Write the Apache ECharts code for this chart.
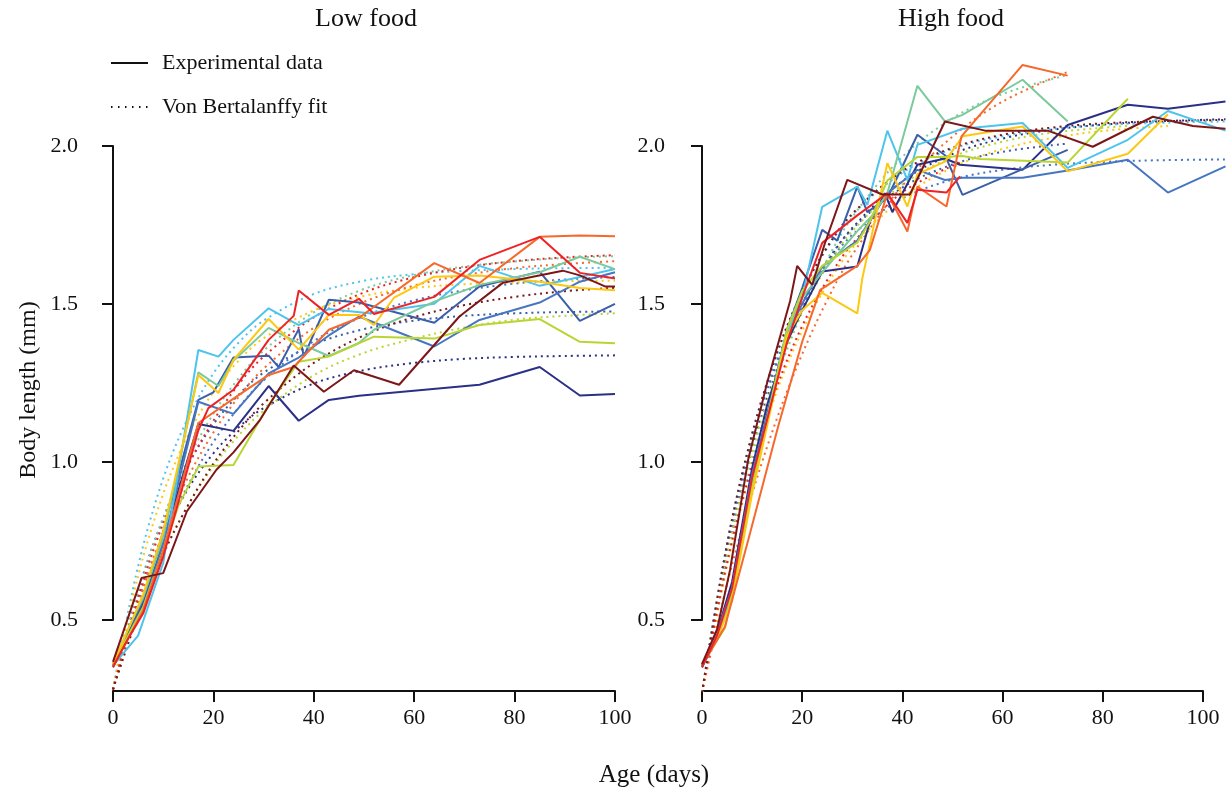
<!DOCTYPE html>
<html>
<head>
<meta charset="utf-8">
<script src="https://cdn.jsdelivr.net/npm/echarts@6/dist/echarts.min.js"></script>
<style>
  html, body { margin: 0; padding: 0; background: #fff; }
  #chart { width: 1230px; height: 793px; }
</style>
</head>
<body>
<div id="chart"></div>
<script>
// ---- data: [age (days), body length (mm)] ----
// Low food, experimental
const lowNavy = [[0,0.36],[3,0.45],[6,0.55],[10,0.75],[17,1.12],[24,1.098],[31,1.24],[37,1.13],[43,1.196],[49,1.209],[73,1.244],[85,1.30],[93,1.21],[100,1.215]];
const lowBlueA = [[0,0.355],[3,0.46],[6,0.56],[10,0.78],[17,1.196],[20,1.22],[24,1.33],[31,1.336],[33,1.30],[37,1.42],[38,1.333],[43,1.513],[49,1.504],[64,1.44],[73,1.555],[85,1.602],[93,1.446],[100,1.50]];
const lowBlueB = [[0,0.35],[3,0.45],[6,0.54],[10,0.74],[17,1.19],[24,1.152],[31,1.28],[37,1.33],[43,1.40],[49,1.46],[64,1.365],[73,1.449],[85,1.504],[93,1.57],[100,1.60]];
const lowCyan = [[0,0.355],[5,0.45],[10,0.68],[17,1.354],[21,1.333],[24,1.386],[31,1.486],[37,1.433],[43,1.484],[51,1.47],[64,1.50],[73,1.62],[85,1.557],[93,1.585],[100,1.61]];
const lowTeal = [[0,0.36],[3,0.47],[6,0.57],[10,0.76],[17,1.283],[21,1.24],[24,1.32],[31,1.424],[37,1.376],[43,1.335],[49,1.376],[52,1.418],[64,1.507],[73,1.56],[85,1.60],[93,1.649],[100,1.61]];
const lowYellow = [[0,0.36],[3,0.47],[6,0.58],[10,0.78],[17,1.275],[21,1.218],[24,1.323],[31,1.452],[37,1.355],[43,1.465],[49,1.465],[52,1.433],[56,1.52],[64,1.586],[73,1.59],[85,1.57],[93,1.55],[100,1.543]];
const lowOrange = [[0,0.355],[3,0.44],[6,0.53],[10,0.72],[17,1.123],[24,1.20],[31,1.275],[36,1.30],[43,1.418],[49,1.456],[64,1.629],[73,1.566],[85,1.712],[93,1.716],[100,1.714]];
const lowRed = [[0,0.35],[3,0.44],[6,0.52],[10,0.70],[17,1.10],[19,1.17],[24,1.228],[31,1.386],[36,1.462],[37,1.542],[43,1.465],[49,1.516],[52,1.468],[64,1.522],[73,1.639],[85,1.712],[93,1.598],[100,1.58]];
const lowMaroon = [[0,0.367],[5.7,0.633],[10,0.648],[14.7,0.843],[20.6,0.975],[24,1.03],[29.3,1.133],[36,1.305],[42,1.222],[48,1.29],[57,1.244],[69,1.46],[77.7,1.567],[89.6,1.605],[93,1.59],[98,1.555],[100,1.555]];
const lowLime = [[0,0.36],[3,0.45],[6,0.54],[10,0.72],[13,0.86],[17,0.985],[24,0.99],[31,1.18],[37,1.317],[43,1.333],[52,1.396],[64,1.39],[73,1.433],[85,1.452],[93,1.38],[100,1.375]];

// Low food, von Bertalanffy fits
const lowFitDays = [0, 5, 10, 15, 20, 25, 30, 40, 50, 60, 70, 80, 90, 100];
const lowNavyFit = [0.28, 0.56, 0.764, 0.916, 1.027, 1.109, 1.17, 1.248, 1.29, 1.313, 1.326, 1.332, 1.335, 1.337];
const lowBlueAFit = [0.28, 0.591, 0.821, 0.992, 1.119, 1.212, 1.282, 1.371, 1.42, 1.447, 1.462, 1.47, 1.474, 1.476];
const lowBlueBFit = [0.28, 0.545, 0.758, 0.928, 1.063, 1.171, 1.258, 1.382, 1.461, 1.511, 1.543, 1.564, 1.577, 1.585];
const lowCyanFit = [0.28, 0.67, 0.947, 1.141, 1.28, 1.377, 1.447, 1.531, 1.573, 1.594, 1.604, 1.61, 1.613, 1.614];
const lowTealFit = [0.28, 0.585, 0.822, 1.009, 1.152, 1.264, 1.352, 1.473, 1.547, 1.591, 1.618, 1.634, 1.645, 1.651];
const lowYellowFit = [0.28, 0.639, 0.899, 1.087, 1.222, 1.32, 1.391, 1.479, 1.525, 1.55, 1.562, 1.568, 1.572, 1.573];
const lowOrangeFit = [0.28, 0.555, 0.776, 0.953, 1.093, 1.205, 1.295, 1.424, 1.506, 1.558, 1.591, 1.613, 1.626, 1.635];
const lowRedFit = [0.28, 0.57, 0.806, 0.99, 1.13, 1.245, 1.333, 1.457, 1.536, 1.584, 1.615, 1.635, 1.647, 1.654];
const lowMaroonFit = [0.28, 0.514, 0.707, 0.864, 0.994, 1.098, 1.185, 1.313, 1.40, 1.458, 1.496, 1.522, 1.54, 1.551];
const lowLimeFit = [0.28, 0.519, 0.711, 0.864, 0.986, 1.083, 1.162, 1.274, 1.345, 1.39, 1.425, 1.45, 1.462, 1.47];

// High food, experimental
const highNavy = [[0,0.355],[3,0.46],[6,0.62],[10,0.98],[13,1.18],[17,1.38],[20,1.48],[24,1.602],[31,1.618],[33.5,1.76],[36.5,1.85],[38,1.79],[43,1.94],[48.5,1.96],[51.5,1.94],[64,1.924],[73,2.066],[85,2.13],[93,2.117],[104.5,2.14]];
const highBlueA = [[0,0.35],[3,0.45],[6,0.6],[10,0.95],[17,1.42],[20,1.55],[24,1.734],[27,1.70],[31,1.871],[33,1.79],[37,1.835],[43,2.035],[48.5,1.97],[52,1.845],[73,1.987]];
const highBlueB = [[0,0.35],[3,0.46],[6,0.6],[10,0.96],[17,1.40],[20,1.5],[24,1.618],[31,1.70],[37,1.85],[43,1.924],[48.5,1.892],[52,1.899],[64,1.899],[73,1.922],[85,1.956],[93,1.852],[104.5,1.935]];
const highCyan = [[0,0.35],[3,0.44],[6,0.58],[10,0.93],[17,1.40],[20,1.52],[24,1.807],[31,1.871],[33,1.813],[37,2.048],[41,1.892],[43,2.003],[52,2.054],[64,2.072],[73,1.93],[85,2.019],[93,2.11],[104.5,2.048]];
const highTeal = [[0,0.36],[3,0.45],[6,0.58],[10,0.92],[17,1.42],[20,1.52],[24,1.60],[31,1.73],[34,1.78],[37,1.85],[43,2.19],[48.5,2.077],[52,2.098],[64,2.209],[73,2.077]];
const highYellow = [[0,0.36],[3,0.44],[6,0.56],[10,0.90],[17,1.40],[20,1.48],[24,1.535],[31,1.47],[32,1.58],[37,1.945],[41,1.808],[43,1.91],[48.5,1.95],[52,2.03],[64,2.061],[73,1.919],[85,1.975],[93,2.10]];
const highLime = [[0,0.36],[4.6,0.475],[10,0.92],[17,1.42],[20,1.54],[24,1.62],[31,1.694],[33.5,1.76],[37,1.89],[43,1.965],[48.5,1.965],[52,1.968],[55.5,1.958],[73,1.947],[85,2.149]];
const highOrange = [[0,0.355],[4.6,0.479],[9.6,0.775],[15.2,1.112],[20,1.38],[23.6,1.544],[31,1.62],[33.5,1.67],[37,1.85],[41,1.729],[43,1.871],[48.8,1.808],[51.8,2.03],[64,2.256],[73,2.222]];
const highRed = [[0,0.35],[3,0.45],[6,0.6],[10,0.95],[17,1.38],[20,1.52],[24,1.693],[31,1.78],[37,1.85],[41,1.756],[43,1.861],[48.8,1.852],[51.5,1.903]];
const highMaroon = [[0,0.36],[3,0.47],[5.6,0.658],[9.2,1.006],[13,1.25],[17.6,1.51],[19,1.62],[22,1.56],[24.5,1.69],[29,1.892],[36,1.846],[41.5,1.846],[48.5,2.077],[56.5,2.048],[69,2.048],[78,1.997],[90,2.092],[98,2.063],[104.5,2.054]];

// High food, von Bertalanffy fits
const highNavyFit = [[0,0.27],[5,0.70],[10,1.04],[15,1.293],[20,1.484],[25,1.63],[30,1.74],[40,1.888],[50,1.974],[60,2.023],[70,2.051],[80,2.067],[90,2.077],[104.5,2.084]];
const highBlueAFit = [[0,0.27],[5,0.725],[10,1.068],[15,1.315],[20,1.50],[25,1.636],[30,1.737],[40,1.868],[50,1.941],[60,1.981],[73,2.007]];
const highBlueBFit = [[0,0.27],[5,0.738],[10,1.077],[15,1.322],[20,1.497],[25,1.625],[30,1.718],[40,1.833],[50,1.893],[60,1.924],[70,1.94],[80,1.949],[90,1.954],[104.5,1.957]];
const highCyanFit = [[0,0.27],[5,0.74],[10,1.086],[15,1.342],[20,1.535],[25,1.676],[30,1.781],[40,1.915],[50,1.99],[60,2.03],[70,2.053],[80,2.066],[90,2.072],[104.5,2.077]];
const highTealFit = [[0,0.27],[5,0.678],[10,1.005],[15,1.267],[20,1.474],[25,1.64],[30,1.774],[40,1.965],[50,2.087],[60,2.164],[73,2.224]];
const highYellowFit = [[0,0.27],[5,0.67],[10,0.981],[15,1.226],[20,1.414],[25,1.561],[30,1.676],[40,1.835],[50,1.931],[60,1.99],[70,2.025],[80,2.047],[93,2.063]];
const highLimeFit = [[0,0.27],[5,0.70],[10,1.03],[15,1.285],[20,1.476],[25,1.62],[30,1.73],[40,1.877],[50,1.965],[60,2.013],[70,2.042],[85,2.063]];
const highOrangeFit = [[0,0.27],[5,0.613],[10,0.898],[15,1.139],[20,1.341],[25,1.512],[30,1.655],[40,1.874],[50,2.029],[60,2.14],[73,2.234]];
const highRedFit = [[0,0.27],[5,0.68],[10,0.99],[15,1.24],[20,1.43],[25,1.575],[30,1.69],[40,1.853],[52,1.95]];
const highMaroonFit = [[0,0.27],[5,0.74],[10,1.089],[15,1.346],[20,1.539],[25,1.68],[30,1.785],[40,1.92],[50,1.994],[60,2.035],[70,2.058],[80,2.071],[90,2.077],[104.5,2.082]];

const xTicks = [0, 20, 40, 60, 80, 100];
const yTicks = [0.5, 1.0, 1.5, 2.0];

// ---- styling ----
const font = '"Liberation Serif", "Times New Roman", serif';
const ink = '#111';
const palette = {
    navy: '#2b3087', blueA: '#3a5ea9', blueB: '#4676c1', cyan: '#4ec4ec', teal: '#7bca9c',
    lime: '#b9d532', yellow: '#fdc811', orange: '#f6682b', red: '#ee2226', maroon: '#7c1618',
};
const dotted = [2, 4];

const lowSets = [
    ['navy', lowNavy, lowNavyFit], ['blueA', lowBlueA, lowBlueAFit], ['blueB', lowBlueB, lowBlueBFit],
    ['cyan', lowCyan, lowCyanFit], ['teal', lowTeal, lowTealFit], ['lime', lowLime, lowLimeFit],
    ['yellow', lowYellow, lowYellowFit], ['orange', lowOrange, lowOrangeFit], ['red', lowRed, lowRedFit],
    ['maroon', lowMaroon, lowMaroonFit],
];
const highSets = [
    ['navy', highNavy, highNavyFit], ['blueA', highBlueA, highBlueAFit], ['blueB', highBlueB, highBlueBFit],
    ['cyan', highCyan, highCyanFit], ['teal', highTeal, highTealFit], ['lime', highLime, highLimeFit],
    ['yellow', highYellow, highYellowFit], ['orange', highOrange, highOrangeFit], ['red', highRed, highRedFit],
    ['maroon', highMaroon, highMaroonFit],
];

const series = [];
const addPanel = (sets, axis, fitAsPairs) => {
    sets.forEach(([key, data, fit]) => {
        series.push({
            type: 'line', xAxisIndex: axis, yAxisIndex: axis,
            data: fitAsPairs ? fit : lowFitDays.map((d, i) => [d, fit[i]]),
            smooth: 0.35, symbol: 'none', silent: true,
            lineStyle: { color: palette[key], width: 2, type: dotted },
        });
    });
    sets.forEach(([key, data]) => {
        series.push({
            type: 'line', xAxisIndex: axis, yAxisIndex: axis, data,
            symbol: 'none', silent: true,
            lineStyle: { color: palette[key], width: 2 },
        });
    });
};
addPanel(lowSets, 0, false);
addPanel(highSets, 1, true);

// legend-only series
series.push(
    { name: 'Experimental data', type: 'line', xAxisIndex: 0, yAxisIndex: 0, data: [], symbol: 'none', itemStyle: { color: ink }, lineStyle: { color: ink, width: 2 } },
    { name: 'Von Bertalanffy fit', type: 'line', xAxisIndex: 0, yAxisIndex: 0, data: [], symbol: 'none', itemStyle: { color: ink }, lineStyle: { color: ink, width: 1.5, type: [1.5, 5.5] } },
);

const hiddenAxis = (gi, min, max) => ({ gridIndex: gi, type: 'value', min, max, show: false });
const frameX = (gi) => ({
    gridIndex: gi, type: 'value', min: 0, max: 100, interval: 20, offset: 71,
    axisLine: { show: true, lineStyle: { color: ink, width: 2 } },
    axisTick: { show: true, length: 11, lineStyle: { color: ink, width: 2 } },
    axisLabel: { color: ink, fontFamily: font, fontSize: 22, margin: 16,
        formatter: (v) => (xTicks.includes(v) ? String(v) : '') },
    splitLine: { show: false },
});
const frameY = (gi, offset) => ({
    gridIndex: gi, type: 'value', min: 0.5, max: 2.0, interval: 0.5, offset,
    axisLine: { show: true, lineStyle: { color: ink, width: 2 } },
    axisTick: { show: true, length: 11, lineStyle: { color: ink, width: 2 } },
    axisLabel: { color: ink, fontFamily: font, fontSize: 22, margin: 15,
        formatter: (v) => (yTicks.includes(v) ? v.toFixed(1) : '') },
    splitLine: { show: false },
});

const chart = echarts.init(document.getElementById('chart'), null, { renderer: 'canvas' });
chart.setOption({
    animation: false,
    backgroundColor: '#fff',
    textStyle: { fontFamily: font },
    grid: [
        { left: 113, width: 502, top: 51, height: 640 },
        { left: 702, width: 528, top: 51, height: 640 },
        { left: 113, width: 502, top: 146, height: 474 },
        { left: 702, width: 501, top: 146, height: 474 },
    ],
    xAxis: [hiddenAxis(0, 0, 100), hiddenAxis(1, 0, 105.4), frameX(2), frameX(3)],
    yAxis: [hiddenAxis(0, 0.275, 2.3), hiddenAxis(1, 0.275, 2.3), frameY(2, 20), frameY(3, 22)],
    legend: {
        left: 105, top: 47, orient: 'vertical', itemWidth: 37, itemHeight: 14, itemGap: 22,
        selectedMode: false,
        itemStyle: { opacity: 0 },
        data: ['Experimental data', 'Von Bertalanffy fit'],
        textStyle: { color: ink, fontFamily: font, fontSize: 22, padding: [0, 0, 0, 9] },
    },
    graphic: [
        { type: 'text', x: 366, y: 19, style: { text: 'Low food', font: `26px ${font}`, fill: ink, textAlign: 'center', textVerticalAlign: 'middle' } },
        { type: 'text', x: 951, y: 19, style: { text: 'High food', font: `26px ${font}`, fill: ink, textAlign: 'center', textVerticalAlign: 'middle' } },
        { type: 'text', x: 654, y: 775, style: { text: 'Age (days)', font: `25px ${font}`, fill: ink, textAlign: 'center', textVerticalAlign: 'middle' } },
        { type: 'text', x: 29, y: 390, rotation: Math.PI / 2, style: { text: 'Body length (mm)', font: `24px ${font}`, fill: ink, textAlign: 'center', textVerticalAlign: 'middle' } },
    ],
    series,
});
</script>
</body>
</html>
